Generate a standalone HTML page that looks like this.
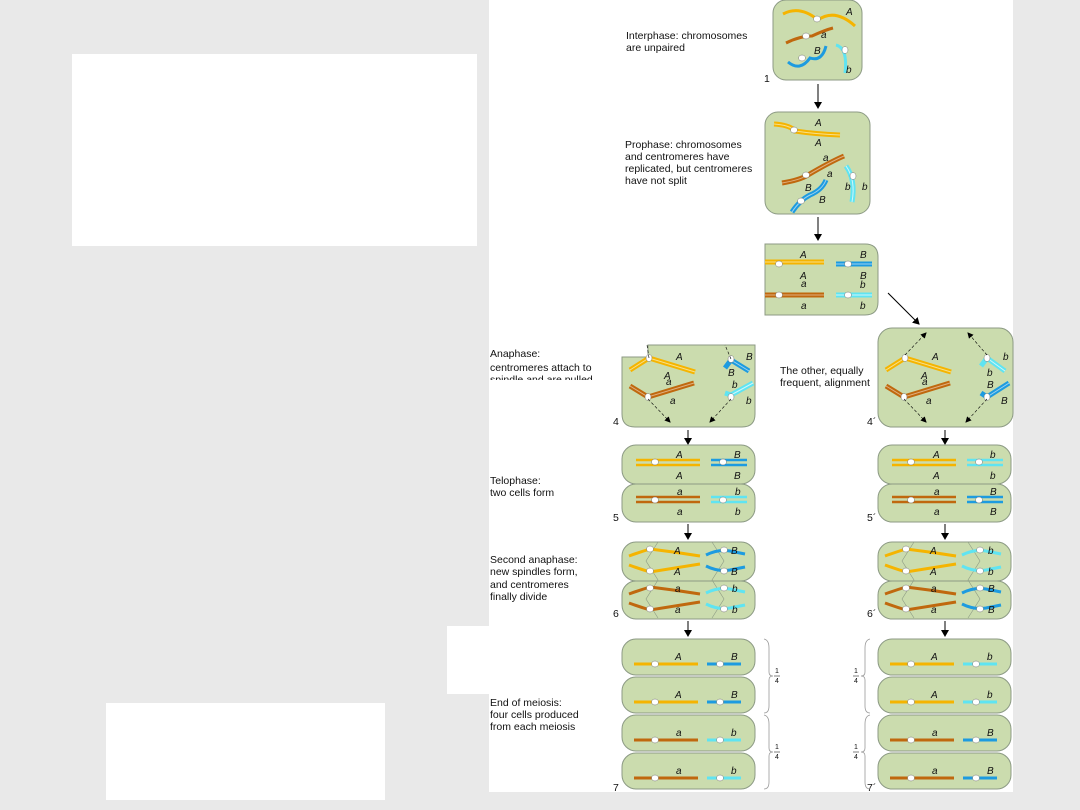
<!DOCTYPE html>
<html><head><meta charset="utf-8"><style>
html,body{margin:0;padding:0;background:#e9e9e9;}
svg{display:block}
text{font-family:"Liberation Sans",sans-serif;font-size:10.5px;fill:#111}
.l{font-style:italic;font-size:10px}
.c{fill:#cbdcae;stroke:#8c9a84;stroke-width:1}
.ce{fill:#fff;stroke:#777;stroke-width:.5}
</style></head><body>
<svg width="1080" height="810" viewBox="0 0 1080 810" xmlns="http://www.w3.org/2000/svg">
<defs>
<marker id="ar" markerWidth="8" markerHeight="8" refX="6" refY="4" orient="auto" markerUnits="userSpaceOnUse"><path d="M0,0 L7,4 L0,8z" fill="#000"/></marker>
<marker id="sa" markerWidth="6" markerHeight="6" refX="5" refY="3" orient="auto" markerUnits="userSpaceOnUse"><path d="M0,0 L6,3 L0,6z" fill="#000"/></marker>
<g id="c5">
<rect class="c" x="0" y="0" width="133" height="39" rx="14"/>
<rect class="c" x="0" y="39" width="133" height="38" rx="14"/>
</g>
<g id="c7">
<rect class="c" x="0" y="0" width="133" height="36" rx="14"/>
<rect class="c" x="0" y="38" width="133" height="36" rx="14"/>
<rect class="c" x="0" y="76" width="133" height="36" rx="14"/>
<rect class="c" x="0" y="114" width="133" height="36" rx="14"/>
</g>
</defs>
<rect x="489" y="0" width="524" height="792" fill="#fff"/>
<rect x="72" y="54" width="405" height="192" fill="#fff"/>
<rect x="106" y="703" width="279" height="97" fill="#fff"/>
<rect x="447" y="626" width="42" height="68" fill="#fff"/>

<!-- Cell 1 -->
<rect class="c" x="773" y="0" width="89" height="80" rx="13"/>
<path d="M783,14 Q800,5 818,20 Q835,8 855,26" stroke="#f5b400" stroke-width="3" fill="none"/>
<path d="M786,43 Q800,36 812,36 Q825,30 833,28" stroke="#c0680e" stroke-width="3" fill="none"/>
<path d="M788,62 Q800,72 810,58 Q822,62 826,46" stroke="#1d9be0" stroke-width="3" fill="none"/>
<path d="M836,45 Q848,48 845,73" stroke="#5fe4f2" stroke-width="3" fill="none"/>
<ellipse class="ce" cx="817" cy="19" rx="3.5" ry="3"/><ellipse class="ce" cx="806" cy="36" rx="3.5" ry="3"/>
<ellipse class="ce" cx="802" cy="58" rx="3.5" ry="3"/><ellipse class="ce" cx="845" cy="50" rx="3" ry="3.5"/>
<text class="l" x="846" y="15">A</text><text class="l" x="821" y="38">a</text><text class="l" x="814" y="54">B</text><text class="l" x="846" y="73">b</text>
<text x="626" y="39">Interphase: chromosomes</text><text x="626" y="51">are unpaired</text>
<text x="764" y="82">1</text>
<line x1="818" y1="84" x2="818" y2="108" stroke="#000" marker-end="url(#ar)"/>

<!-- Cell 2 -->
<rect class="c" x="765" y="112" width="105" height="102" rx="13"/>
<path d="M774,124 Q790,125 795,131 Q815,134 840,135" stroke="#f5b400" stroke-width="5" fill="none"/>
<path d="M774,124 Q790,125 795,131 Q815,134 840,135" stroke="#f7e08a" stroke-width="1" fill="none"/>
<path d="M782,183 Q800,180 808,175 Q830,162 844,156" stroke="#c0680e" stroke-width="5" fill="none"/>
<path d="M782,183 Q800,180 808,175 Q830,162 844,156" stroke="#e0b080" stroke-width="1" fill="none"/>
<path d="M792,212 Q800,200 810,195 Q822,190 826,180" stroke="#1d9be0" stroke-width="5" fill="none"/>
<path d="M792,212 Q800,200 810,195 Q822,190 826,180" stroke="#9dd3f0" stroke-width="1" fill="none"/>
<path d="M846,166 Q856,180 852,202" stroke="#5fe4f2" stroke-width="5" fill="none"/>
<path d="M846,166 Q856,180 852,202" stroke="#d0f6fa" stroke-width="1" fill="none"/>
<ellipse class="ce" cx="794" cy="130" rx="3.5" ry="3"/><ellipse class="ce" cx="806" cy="175" rx="3.5" ry="3"/>
<ellipse class="ce" cx="801" cy="201" rx="3.5" ry="3"/><ellipse class="ce" cx="853" cy="176" rx="3" ry="3.5"/>
<text class="l" x="815" y="126">A</text><text class="l" x="815" y="146">A</text><text class="l" x="823" y="161">a</text><text class="l" x="827" y="177">a</text>
<text class="l" x="805" y="191">B</text><text class="l" x="819" y="203">B</text><text class="l" x="845" y="190">b</text><text class="l" x="862" y="190">b</text>
<text x="625" y="148">Prophase: chromosomes</text><text x="625" y="160">and centromeres have</text><text x="625" y="172">replicated, but centromeres</text><text x="625" y="184">have not split</text>
<line x1="818" y1="217" x2="818" y2="240" stroke="#000" marker-end="url(#ar)"/>

<!-- Cell 3 -->
<path class="c" d="M765,244 H865 Q878,244 878,257 V302 Q878,315 865,315 H765 Z"/>
<line x1="765" y1="262" x2="824" y2="262" stroke="#f5b400" stroke-width="5"/><line x1="765" y1="262" x2="824" y2="262" stroke="#f7e08a" stroke-width="1"/>
<line x1="836" y1="264" x2="872" y2="264" stroke="#1d9be0" stroke-width="5"/><line x1="836" y1="264" x2="872" y2="264" stroke="#9dd3f0" stroke-width="1"/>
<line x1="765" y1="295" x2="824" y2="295" stroke="#c0680e" stroke-width="5"/><line x1="765" y1="295" x2="824" y2="295" stroke="#e0b080" stroke-width="1"/>
<line x1="836" y1="295" x2="872" y2="295" stroke="#5fe4f2" stroke-width="5"/><line x1="836" y1="295" x2="872" y2="295" stroke="#d0f6fa" stroke-width="1"/>
<ellipse class="ce" cx="779" cy="264" rx="3.5" ry="3"/><ellipse class="ce" cx="848" cy="264" rx="3.5" ry="3"/>
<ellipse class="ce" cx="779" cy="295" rx="3.5" ry="3"/><ellipse class="ce" cx="848" cy="295" rx="3.5" ry="3"/>
<text class="l" x="800" y="258">A</text><text class="l" x="860" y="258">B</text><text class="l" x="800" y="279">A</text><text class="l" x="860" y="279">B</text>
<text class="l" x="801" y="287">a</text><text class="l" x="860" y="288">b</text><text class="l" x="801" y="309">a</text><text class="l" x="860" y="309">b</text>
<line x1="888" y1="293" x2="919" y2="324" stroke="#000" marker-end="url(#ar)"/>

<!-- Cell 4 -->
<path class="c" d="M648,345 H755 V414 Q755,427 742,427 H635 Q622,427 622,414 V357 H648 Z"/>
<clipPath id="ct"><rect x="489" y="340" width="135" height="40"/></clipPath>
<g clip-path="url(#ct)"><text x="490" y="357">Anaphase:</text><text x="490" y="371">centromeres attach to</text><text x="490" y="383">spindle and are pulled</text></g>
<g fill="none" stroke-width="5">
<path d="M630,370 L649,358 L695,372" stroke="#f5b400"/><path d="M630,386 L648,397 L694,383" stroke="#c0680e"/>
<path d="M749,371 L731,360 L725,368" stroke="#1d9be0"/><path d="M753,383 L731,395 L725,393" stroke="#5fe4f2"/>
</g>
<g fill="none" stroke-width="1">
<path d="M630,370 L649,358 L695,372" stroke="#f7e08a"/><path d="M630,386 L648,397 L694,383" stroke="#e0b080"/>
<path d="M749,371 L731,360" stroke="#9dd3f0"/><path d="M753,383 L731,395" stroke="#d0f6fa"/>
</g>
<ellipse class="ce" cx="649" cy="358" rx="3" ry="3.5"/><ellipse class="ce" cx="648" cy="397" rx="3" ry="3.5"/>
<ellipse class="ce" cx="731" cy="359" rx="3" ry="3.5"/><ellipse class="ce" cx="731" cy="397" rx="3" ry="3.5"/>
<g stroke="#000" stroke-width=".6" stroke-dasharray="3,2" fill="none">
<line x1="649" y1="358" x2="647" y2="345"/><line x1="731" y1="359" x2="725" y2="345"/>
<line x1="648" y1="399" x2="670" y2="422" marker-end="url(#sa)"/><line x1="731" y1="399" x2="710" y2="422" marker-end="url(#sa)"/>
</g>
<text class="l" x="676" y="360">A</text><text class="l" x="664" y="379">A</text><text class="l" x="666" y="385">a</text><text class="l" x="670" y="404">a</text>
<text class="l" x="746" y="360">B</text><text class="l" x="728" y="376">B</text><text class="l" x="732" y="388">b</text><text class="l" x="746" y="404">b</text>
<text x="613" y="425">4</text>

<!-- Cell 4' -->
<rect class="c" x="878" y="328" width="135" height="99" rx="14"/>
<g fill="none" stroke-width="5">
<path d="M886,370 L905,358 L951,372" stroke="#f5b400"/><path d="M886,386 L904,397 L950,383" stroke="#c0680e"/>
<path d="M1005,371 L987,358 L981,366" stroke="#5fe4f2"/><path d="M1009,383 L987,397 L981,393" stroke="#1d9be0"/>
</g>
<g fill="none" stroke-width="1">
<path d="M886,370 L905,358 L951,372" stroke="#f7e08a"/><path d="M886,386 L904,397 L950,383" stroke="#e0b080"/>
<path d="M1005,371 L987,358" stroke="#d0f6fa"/><path d="M1009,383 L987,397" stroke="#9dd3f0"/>
</g>
<ellipse class="ce" cx="905" cy="358" rx="3" ry="3.5"/><ellipse class="ce" cx="904" cy="397" rx="3" ry="3.5"/>
<ellipse class="ce" cx="987" cy="358" rx="3" ry="3.5"/><ellipse class="ce" cx="987" cy="397" rx="3" ry="3.5"/>
<g stroke="#000" stroke-width=".6" stroke-dasharray="3,2" fill="none">
<line x1="905" y1="355" x2="926" y2="333" marker-end="url(#sa)"/><line x1="987" y1="355" x2="968" y2="333" marker-end="url(#sa)"/>
<line x1="904" y1="399" x2="926" y2="422" marker-end="url(#sa)"/><line x1="987" y1="399" x2="966" y2="422" marker-end="url(#sa)"/>
</g>
<text class="l" x="932" y="360">A</text><text class="l" x="921" y="379">A</text><text class="l" x="922" y="385">a</text><text class="l" x="926" y="404">a</text>
<text class="l" x="1003" y="360">b</text><text class="l" x="987" y="376">b</text><text class="l" x="987" y="388">B</text><text class="l" x="1001" y="404">B</text>
<text x="780" y="374">The other, equally</text><text x="780" y="386">frequent, alignment</text>
<text x="867" y="425">4´</text>

<line x1="688" y1="430" x2="688" y2="444" stroke="#000" marker-end="url(#ar)"/>
<line x1="945" y1="430" x2="945" y2="444" stroke="#000" marker-end="url(#ar)"/>

<!-- Telophase cells -->
<use href="#c5" x="622" y="445"/><use href="#c5" x="878" y="445"/>
<g id="ch5" stroke-width="2.5">
<line x1="636" y1="460" x2="700" y2="460" stroke="#f5b400"/><line x1="636" y1="465" x2="700" y2="465" stroke="#f5b400"/>
<line x1="636" y1="497" x2="700" y2="497" stroke="#c0680e"/><line x1="636" y1="502" x2="700" y2="502" stroke="#c0680e"/>
</g>
<use href="#ch5" x="256"/>
<g stroke-width="2.5">
<line x1="711" y1="460" x2="747" y2="460" stroke="#1d9be0"/><line x1="711" y1="465" x2="747" y2="465" stroke="#1d9be0"/>
<line x1="711" y1="497" x2="747" y2="497" stroke="#5fe4f2"/><line x1="711" y1="502" x2="747" y2="502" stroke="#5fe4f2"/>
<line x1="967" y1="460" x2="1003" y2="460" stroke="#5fe4f2"/><line x1="967" y1="465" x2="1003" y2="465" stroke="#5fe4f2"/>
<line x1="967" y1="497" x2="1003" y2="497" stroke="#1d9be0"/><line x1="967" y1="502" x2="1003" y2="502" stroke="#1d9be0"/>
</g>
<ellipse class="ce" cx="655" cy="462" rx="3.5" ry="3"/><ellipse class="ce" cx="723" cy="462" rx="3.5" ry="3"/>
<ellipse class="ce" cx="655" cy="500" rx="3.5" ry="3"/><ellipse class="ce" cx="723" cy="500" rx="3.5" ry="3"/>
<ellipse class="ce" cx="911" cy="462" rx="3.5" ry="3"/><ellipse class="ce" cx="979" cy="462" rx="3.5" ry="3"/>
<ellipse class="ce" cx="911" cy="500" rx="3.5" ry="3"/><ellipse class="ce" cx="979" cy="500" rx="3.5" ry="3"/>
<text class="l" x="676" y="458">A</text><text class="l" x="734" y="458">B</text><text class="l" x="676" y="479">A</text><text class="l" x="734" y="479">B</text>
<text class="l" x="677" y="495">a</text><text class="l" x="735" y="495">b</text><text class="l" x="677" y="515">a</text><text class="l" x="735" y="515">b</text>
<text class="l" x="933" y="458">A</text><text class="l" x="990" y="458">b</text><text class="l" x="933" y="479">A</text><text class="l" x="990" y="479">b</text>
<text class="l" x="934" y="495">a</text><text class="l" x="990" y="495">B</text><text class="l" x="934" y="515">a</text><text class="l" x="990" y="515">B</text>
<text x="490" y="484">Telophase:</text><text x="490" y="496">two cells form</text>
<text x="613" y="521">5</text><text x="867" y="521">5´</text>

<line x1="688" y1="524" x2="688" y2="539" stroke="#000" marker-end="url(#ar)"/>
<line x1="945" y1="524" x2="945" y2="539" stroke="#000" marker-end="url(#ar)"/>

<!-- Second anaphase cells -->
<use href="#c5" x="622" y="542"/><use href="#c5" x="878" y="542"/>
<g id="sp" stroke="#8c9a84" stroke-width=".6" fill="none">
<path d="M658,542 L646,561 L658,580 L646,599 L658,618"/><path d="M712,542 L724,561 L712,580 L724,599 L712,618"/>
</g>
<use href="#sp" x="256"/>
<g id="ch6" fill="none" stroke-width="3">
<path d="M629,556 Q640,552 650,549 Q675,552 700,556" stroke="#f5b400"/>
<path d="M629,565 Q640,569 650,572 Q675,568 700,564" stroke="#f5b400"/>
<path d="M629,594 Q640,590 650,587 Q675,590 700,594" stroke="#c0680e"/>
<path d="M629,603 Q640,607 650,610 Q675,606 700,602" stroke="#c0680e"/>
</g>
<use href="#ch6" x="256"/>
<g fill="none" stroke-width="3">
<path d="M706,555 Q718,549 730,551 L745,554" stroke="#1d9be0"/><path d="M706,566 Q718,572 730,570 L745,567" stroke="#1d9be0"/>
<path d="M706,593 Q718,587 730,589 L745,592" stroke="#5fe4f2"/><path d="M706,604 Q718,610 730,608 L745,605" stroke="#5fe4f2"/>
<path d="M962,555 Q974,549 986,551 L1001,554" stroke="#5fe4f2"/><path d="M962,566 Q974,572 986,570 L1001,567" stroke="#5fe4f2"/>
<path d="M962,593 Q974,587 986,589 L1001,592" stroke="#1d9be0"/><path d="M962,604 Q974,610 986,608 L1001,605" stroke="#1d9be0"/>
</g>
<ellipse class="ce" cx="650" cy="549" rx="3.5" ry="3"/><ellipse class="ce" cx="650" cy="571" rx="3.5" ry="3"/>
<ellipse class="ce" cx="650" cy="588" rx="3.5" ry="3"/><ellipse class="ce" cx="650" cy="609" rx="3.5" ry="3"/>
<ellipse class="ce" cx="724" cy="550" rx="3.5" ry="3"/><ellipse class="ce" cx="724" cy="571" rx="3.5" ry="3"/>
<ellipse class="ce" cx="724" cy="588" rx="3.5" ry="3"/><ellipse class="ce" cx="724" cy="609" rx="3.5" ry="3"/>
<ellipse class="ce" cx="906" cy="549" rx="3.5" ry="3"/><ellipse class="ce" cx="906" cy="571" rx="3.5" ry="3"/>
<ellipse class="ce" cx="906" cy="588" rx="3.5" ry="3"/><ellipse class="ce" cx="906" cy="609" rx="3.5" ry="3"/>
<ellipse class="ce" cx="980" cy="550" rx="3.5" ry="3"/><ellipse class="ce" cx="980" cy="571" rx="3.5" ry="3"/>
<ellipse class="ce" cx="980" cy="588" rx="3.5" ry="3"/><ellipse class="ce" cx="980" cy="609" rx="3.5" ry="3"/>
<text class="l" x="674" y="554">A</text><text class="l" x="731" y="554">B</text><text class="l" x="674" y="575">A</text><text class="l" x="731" y="575">B</text>
<text class="l" x="675" y="592">a</text><text class="l" x="732" y="592">b</text><text class="l" x="675" y="613">a</text><text class="l" x="732" y="613">b</text>
<text class="l" x="930" y="554">A</text><text class="l" x="988" y="554">b</text><text class="l" x="930" y="575">A</text><text class="l" x="988" y="575">b</text>
<text class="l" x="931" y="592">a</text><text class="l" x="988" y="592">B</text><text class="l" x="931" y="613">a</text><text class="l" x="988" y="613">B</text>
<text x="490" y="563">Second anaphase:</text><text x="490" y="575">new spindles form,</text><text x="490" y="588">and centromeres</text><text x="490" y="600">finally divide</text>
<text x="613" y="617">6</text><text x="867" y="617">6´</text>

<line x1="688" y1="621" x2="688" y2="636" stroke="#000" marker-end="url(#ar)"/>
<line x1="945" y1="621" x2="945" y2="636" stroke="#000" marker-end="url(#ar)"/>

<!-- Final cells -->
<use href="#c7" x="622" y="639"/><use href="#c7" x="878" y="639"/>
<g stroke-width="3">
<line x1="634" y1="664" x2="698" y2="664" stroke="#f5b400"/><line x1="634" y1="702" x2="698" y2="702" stroke="#f5b400"/>
<line x1="634" y1="740" x2="698" y2="740" stroke="#c0680e"/><line x1="634" y1="778" x2="698" y2="778" stroke="#c0680e"/>
<line x1="707" y1="664" x2="741" y2="664" stroke="#1d9be0"/><line x1="707" y1="702" x2="741" y2="702" stroke="#1d9be0"/>
<line x1="707" y1="740" x2="741" y2="740" stroke="#5fe4f2"/><line x1="707" y1="778" x2="741" y2="778" stroke="#5fe4f2"/>
<line x1="890" y1="664" x2="954" y2="664" stroke="#f5b400"/><line x1="890" y1="702" x2="954" y2="702" stroke="#f5b400"/>
<line x1="890" y1="740" x2="954" y2="740" stroke="#c0680e"/><line x1="890" y1="778" x2="954" y2="778" stroke="#c0680e"/>
<line x1="963" y1="664" x2="997" y2="664" stroke="#5fe4f2"/><line x1="963" y1="702" x2="997" y2="702" stroke="#5fe4f2"/>
<line x1="963" y1="740" x2="997" y2="740" stroke="#1d9be0"/><line x1="963" y1="778" x2="997" y2="778" stroke="#1d9be0"/>
</g>
<ellipse class="ce" cx="655" cy="664" rx="3.5" ry="3"/><ellipse class="ce" cx="655" cy="702" rx="3.5" ry="3"/><ellipse class="ce" cx="655" cy="740" rx="3.5" ry="3"/><ellipse class="ce" cx="655" cy="778" rx="3.5" ry="3"/>
<ellipse class="ce" cx="720" cy="664" rx="3.5" ry="3"/><ellipse class="ce" cx="720" cy="702" rx="3.5" ry="3"/><ellipse class="ce" cx="720" cy="740" rx="3.5" ry="3"/><ellipse class="ce" cx="720" cy="778" rx="3.5" ry="3"/>
<ellipse class="ce" cx="911" cy="664" rx="3.5" ry="3"/><ellipse class="ce" cx="911" cy="702" rx="3.5" ry="3"/><ellipse class="ce" cx="911" cy="740" rx="3.5" ry="3"/><ellipse class="ce" cx="911" cy="778" rx="3.5" ry="3"/>
<ellipse class="ce" cx="976" cy="664" rx="3.5" ry="3"/><ellipse class="ce" cx="976" cy="702" rx="3.5" ry="3"/><ellipse class="ce" cx="976" cy="740" rx="3.5" ry="3"/><ellipse class="ce" cx="976" cy="778" rx="3.5" ry="3"/>
<text class="l" x="675" y="660">A</text><text class="l" x="731" y="660">B</text><text class="l" x="675" y="698">A</text><text class="l" x="731" y="698">B</text>
<text class="l" x="676" y="736">a</text><text class="l" x="731" y="736">b</text><text class="l" x="676" y="774">a</text><text class="l" x="731" y="774">b</text>
<text class="l" x="931" y="660">A</text><text class="l" x="987" y="660">b</text><text class="l" x="931" y="698">A</text><text class="l" x="987" y="698">b</text>
<text class="l" x="932" y="736">a</text><text class="l" x="987" y="736">B</text><text class="l" x="932" y="774">a</text><text class="l" x="987" y="774">B</text>
<text x="490" y="706">End of meiosis:</text><text x="490" y="718">four cells produced</text><text x="490" y="730">from each meiosis</text>
<text x="613" y="791">7</text><text x="867" y="791">7´</text>
<g fill="none" stroke="#999" stroke-width=".8">
<path d="M764,639 Q769,640 769,648 V672 Q769,676 773,676 Q769,676 769,680 V706 Q769,713 764,713"/>
<path d="M764,715 Q769,716 769,724 V748 Q769,752 773,752 Q769,752 769,756 V782 Q769,789 764,789"/>
<path d="M870,639 Q865,640 865,648 V672 Q865,676 861,676 Q865,676 865,680 V706 Q865,713 870,713"/>
<path d="M870,715 Q865,716 865,724 V748 Q865,752 861,752 Q865,752 865,756 V782 Q865,789 870,789"/>
</g>
<text x="775" y="673" style="font-size:7px">1</text><line x1="774" y1="676" x2="780" y2="676" stroke="#000" stroke-width=".5"/><text x="775" y="683" style="font-size:7px">4</text>
<text x="775" y="749" style="font-size:7px">1</text><line x1="774" y1="752" x2="780" y2="752" stroke="#000" stroke-width=".5"/><text x="775" y="759" style="font-size:7px">4</text>
<text x="854" y="673" style="font-size:7px">1</text><line x1="853" y1="676" x2="859" y2="676" stroke="#000" stroke-width=".5"/><text x="854" y="683" style="font-size:7px">4</text>
<text x="854" y="749" style="font-size:7px">1</text><line x1="853" y1="752" x2="859" y2="752" stroke="#000" stroke-width=".5"/><text x="854" y="759" style="font-size:7px">4</text>
</svg>
</body></html>
